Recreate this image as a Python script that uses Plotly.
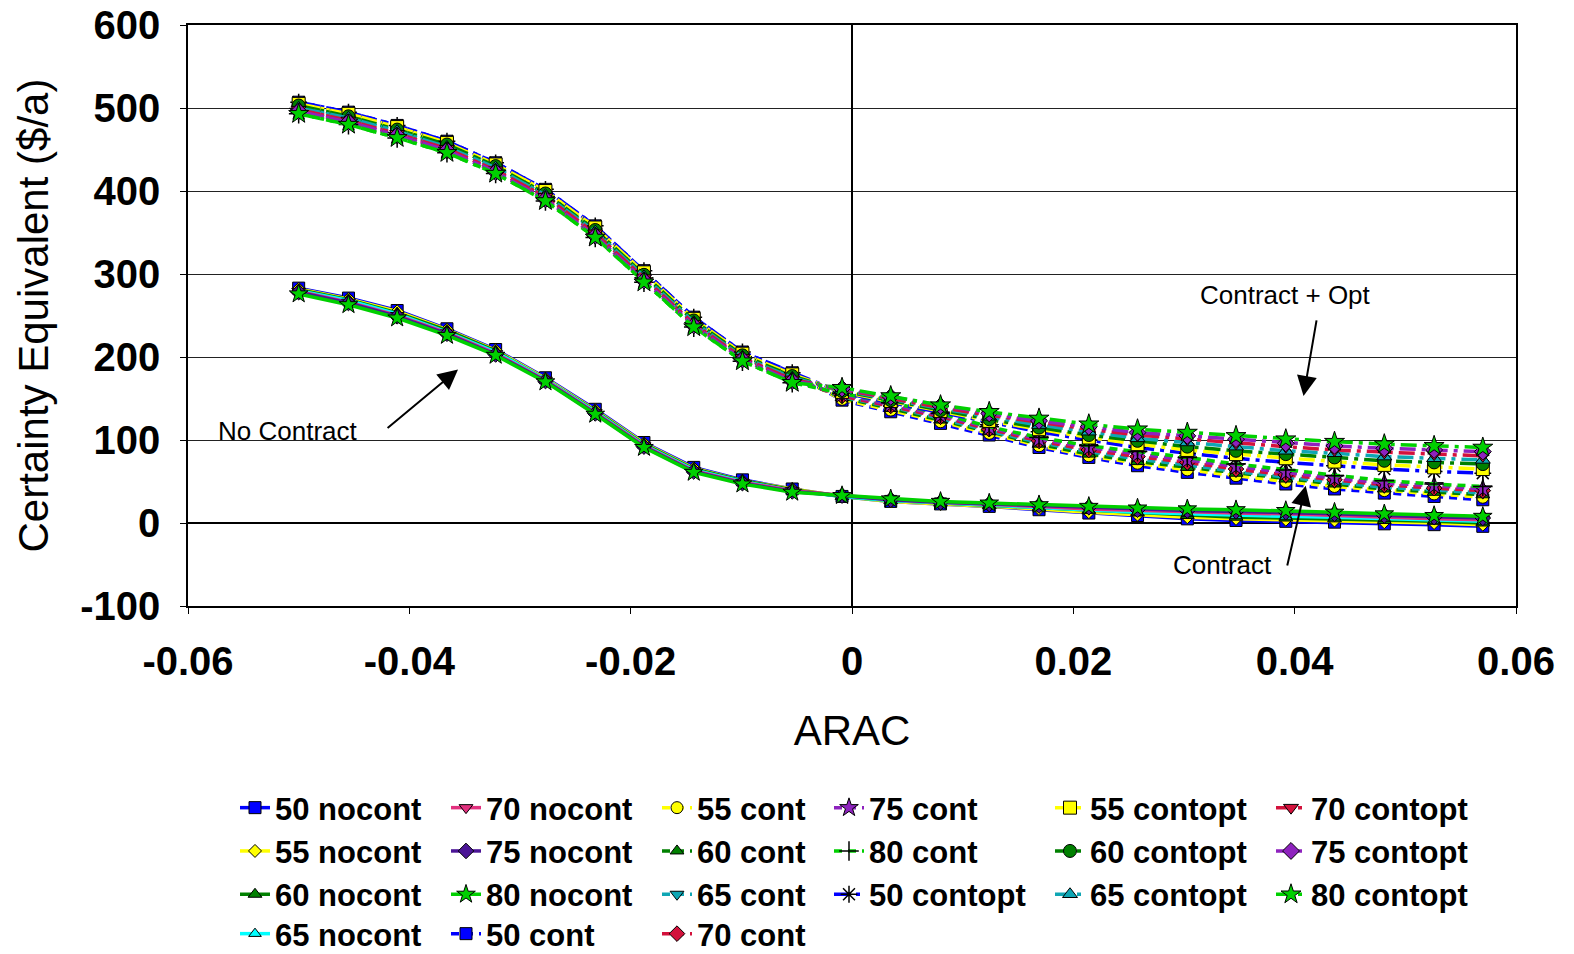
import plotly.graph_objects as go

# ---------------- data ----------------
ARAC = [-0.0500, -0.0455, -0.0411, -0.0366, -0.0322, -0.0277, -0.0232, -0.0188, -0.0143,
        -0.0099, -0.0054, -0.0009, 0.0035, 0.0080, 0.0124, 0.0169, 0.0214, 0.0258,
        0.0303, 0.0347, 0.0392, 0.0436, 0.0481, 0.0526, 0.0570]

nocont_50 = [283, 271, 256, 234, 209, 175, 137, 97, 67, 52, 41, 32, 26, 23, 20, 16, 12, 9, 5, 3, 2, 1, -1, -2, -4]
nocont_55 = [282, 270, 255, 233, 208, 174, 136, 96, 66, 51, 41, 32, 26, 23, 21, 17, 13, 10, 7, 5, 4, 3, 1, 0, -2]
nocont_60 = [281, 269, 253, 232, 207, 173, 135, 95, 65, 51, 40, 32, 27, 24, 21, 18, 15, 12, 9, 7, 6, 5, 3, 2, 0]
nocont_65 = [280, 268, 252, 230, 206, 173, 134, 94, 64, 50, 39, 32, 27, 24, 22, 19, 16, 13, 11, 9, 8, 7, 5, 3, 2]
nocont_70 = [279, 266, 250, 229, 204, 172, 133, 93, 63, 49, 39, 33, 28, 25, 23, 20, 17, 15, 13, 12, 11, 9, 7, 5, 4]
nocont_75 = [278, 265, 249, 228, 203, 171, 132, 92, 62, 48, 38, 33, 28, 25, 23, 21, 19, 16, 15, 14, 13, 11, 9, 7, 6]
nocont_80 = [276, 263, 247, 226, 202, 170, 131, 91, 61, 47, 37, 33, 29, 26, 24, 22, 20, 18, 17, 16, 15, 13, 11, 9, 8]

cont_50 = [507, 495, 479, 460, 434, 402, 358, 304, 248, 206, 181, 148, 134, 120, 106, 91, 79, 69, 61, 54, 47, 41, 36, 32, 28]
cont_55 = [505, 493, 477, 458, 432, 400, 356, 302, 246, 204, 179, 149, 136, 122, 108, 93, 81, 72, 64, 57, 50, 44, 39, 35, 31]
cont_60 = [503, 490, 474, 456, 430, 397, 353, 299, 244, 202, 177, 151, 138, 124, 110, 95, 83, 74, 67, 60, 53, 47, 41, 37, 34]
cont_65 = [500, 488, 472, 453, 428, 395, 351, 297, 242, 200, 175, 152, 140, 126, 111, 97, 86, 77, 70, 62, 55, 49, 43, 40, 36]
cont_70 = [498, 485, 469, 451, 425, 393, 349, 295, 240, 199, 173, 153, 141, 128, 113, 99, 88, 80, 73, 65, 58, 52, 46, 42, 39]
cont_75 = [496, 483, 467, 449, 423, 390, 346, 292, 238, 197, 171, 155, 143, 130, 115, 101, 91, 83, 76, 68, 61, 54, 48, 45, 41]
cont_80 = [493, 480, 464, 446, 421, 388, 344, 290, 236, 195, 169, 156, 145, 132, 116, 103, 93, 86, 79, 71, 64, 57, 51, 47, 44]

contopt_50 = [507, 495, 479, 460, 434, 402, 358, 304, 248, 206, 181, 157, 145, 133, 121, 110, 100, 91, 84, 78, 73, 69, 65, 62, 60]
contopt_55 = [505, 493, 477, 458, 432, 400, 356, 302, 246, 204, 179, 158, 147, 135, 123, 113, 103, 95, 88, 83, 78, 74, 70, 67, 65]
contopt_60 = [503, 490, 474, 456, 430, 397, 353, 299, 244, 202, 177, 159, 148, 136, 125, 115, 106, 99, 92, 87, 83, 79, 75, 73, 71]
contopt_65 = [500, 488, 472, 453, 428, 395, 351, 297, 242, 200, 175, 160, 149, 138, 128, 118, 110, 102, 97, 92, 87, 84, 80, 78, 76]
contopt_70 = [498, 485, 469, 451, 425, 393, 349, 295, 240, 199, 173, 161, 150, 139, 130, 121, 113, 106, 101, 96, 92, 88, 85, 83, 81]
contopt_75 = [496, 483, 467, 449, 423, 390, 346, 292, 238, 197, 171, 162, 152, 141, 132, 123, 116, 109, 105, 101, 96, 93, 90, 88, 86]
contopt_80 = [493, 480, 464, 446, 421, 388, 344, 290, 236, 195, 169, 163, 153, 142, 134, 126, 119, 113, 109, 105, 101, 98, 95, 93, 91]

x_tickvals = [-0.06, -0.04, -0.02, 0, 0.02, 0.04, 0.06]
x_ticktext = ["-0.06", "-0.04", "-0.02", "0", "0.02", "0.04", "0.06"]
y_tickvals = [-100, 0, 100, 200, 300, 400, 500, 600]
y_ticktext = ["-100", "0", "100", "200", "300", "400", "500", "600"]

# ---------------- styles ----------------
FONT = "Arial, Liberation Sans, sans-serif"
BLUE, YELLOW, DKGREEN, CYAN = "#0000FF", "#FFFF00", "#008000", "#00FFFF"
PINK, INDIGO, LIME = "#E2307E", "#4B1596", "#00D000"
TEAL, CRIMSON, PURPLE = "#0FA6B4", "#D3123C", "#8E22BE"

SOLID = "solid"
DASH = "8px,6px"
DASHDOT = "16px,6px,4px,6px"

series = [
    # name, values, line color, symbol, marker fill, dash, marker size, legend
    ("50 nocont", nocont_50, BLUE, "square", BLUE, SOLID, 12, "legend"),
    ("55 nocont", nocont_55, YELLOW, "diamond", YELLOW, SOLID, 10, "legend"),
    ("60 nocont", nocont_60, DKGREEN, "triangle-up", DKGREEN, SOLID, 12, "legend"),
    ("65 nocont", nocont_65, CYAN, "triangle-up", CYAN, SOLID, 11, "legend7"),
    ("70 nocont", nocont_70, PINK, "triangle-down", PINK, SOLID, 12, "legend2"),
    ("75 nocont", nocont_75, INDIGO, "diamond", INDIGO, SOLID, 12, "legend2"),
    ("80 nocont", nocont_80, LIME, "star", LIME, SOLID, 14, "legend2"),
    ("50 cont", cont_50, BLUE, "square", BLUE, DASH, 12, "legend7"),
    ("55 cont", cont_55, YELLOW, "circle", YELLOW, DASH, 12, "legend3"),
    ("60 cont", cont_60, DKGREEN, "triangle-up", DKGREEN, DASH, 12, "legend3"),
    ("65 cont", cont_65, TEAL, "triangle-down", TEAL, DASH, 12, "legend3"),
    ("70 cont", cont_70, CRIMSON, "diamond", CRIMSON, DASH, 12, "legend7"),
    ("75 cont", cont_75, PURPLE, "star", PURPLE, DASH, 14, "legend4"),
    ("80 cont", cont_80, LIME, "cross-thin", "#000000", DASH, 14, "legend4"),
    ("50 contopt", contopt_50, BLUE, "asterisk", "#000000", DASHDOT, 14, "legend4"),
    ("55 contopt", contopt_55, YELLOW, "square", YELLOW, DASHDOT, 13, "legend5"),
    ("60 contopt", contopt_60, DKGREEN, "circle", DKGREEN, DASHDOT, 13, "legend5"),
    ("65 contopt", contopt_65, TEAL, "triangle-up", TEAL, DASHDOT, 13, "legend5"),
    ("70 contopt", contopt_70, CRIMSON, "triangle-down", CRIMSON, DASHDOT, 13, "legend6"),
    ("75 contopt", contopt_75, PURPLE, "diamond", PURPLE, DASHDOT, 13, "legend6"),
    ("80 contopt", contopt_80, LIME, "star", LIME, DASHDOT, 15, "legend6"),
]

fig = go.Figure()
for name, vals, lc, sym, mc, dash, ms, leg in series:
    thin = sym in ("cross-thin", "asterisk")
    fig.add_trace(go.Scatter(
        x=ARAC, y=vals, name=name, mode="lines+markers", legend=leg,
        line=dict(color=lc, width=3.5, dash=dash),
        marker=dict(symbol=sym, size=ms, color=mc,
                    line=dict(color="#000000", width=1.5 if thin else 1)),
    ))

# ---------------- layout ----------------
W, H = 1574, 954
ML, MT, MR, MB = 188, 25, 58, 348
P_LEFT, P_TOP = ML, MT
P_W, P_H = W - ML - MR, H - MT - MB

def px_x(px):
    return (px - P_LEFT) / P_W

def px_y(py):
    return (P_TOP + P_H - py) / P_H

leg_font = dict(family=FONT, size=31, color="#000000", weight="bold")
legend_layout = {}
for key, left in [("legend", 235), ("legend2", 446), ("legend3", 657),
                  ("legend4", 829), ("legend5", 1050), ("legend6", 1271)]:
    legend_layout[key] = dict(
        x=px_x(left), y=px_y(781), xanchor="left", yanchor="top",
        orientation="v", bgcolor="rgba(0,0,0,0)", borderwidth=0,
        font=leg_font, itemwidth=30, tracegroupgap=0,
    )
legend_layout["legend7"] = dict(
    x=px_x(235), y=px_y(907), xanchor="left", yanchor="top",
    orientation="h", bgcolor="rgba(0,0,0,0)", borderwidth=0,
    font=leg_font, itemwidth=30, entrywidth=166, entrywidthmode="pixels",
)

fig.update_layout(
    width=W, height=H,
    margin=dict(l=ML, r=MR, t=MT, b=MB, pad=0, autoexpand=False),
    paper_bgcolor="#FFFFFF", plot_bgcolor="#FFFFFF",
    showlegend=True,
    **legend_layout,
)

fig.update_xaxes(
    range=[-0.06, 0.06], tickvals=x_tickvals, ticktext=x_ticktext, automargin=False,
    tickfont=dict(family=FONT, size=40, color="#000000", weight="bold"),
    ticklabeloverflow="allow", ticklabelstandoff=13,
    showgrid=False, zeroline=True, zerolinecolor="#000000", zerolinewidth=2,
    showline=True, linecolor="#000000", linewidth=1.5, mirror=True,
    ticks="outside", ticklen=6, tickcolor="#000000",
    title=dict(text="ARAC", font=dict(family=FONT, size=42, color="#000000"), standoff=34),
)
fig.update_yaxes(
    range=[-100, 600], tickvals=y_tickvals, ticktext=y_ticktext, automargin=False,
    tickfont=dict(family=FONT, size=40, color="#000000", weight="bold"),
    ticklabeloverflow="allow", ticklabelstandoff=12,
    showgrid=True, gridcolor="#222222", gridwidth=1,
    zeroline=True, zerolinecolor="#000000", zerolinewidth=2,
    showline=True, linecolor="#000000", linewidth=1.5, mirror=True,
    ticks="outside", ticklen=6, tickcolor="#000000",
)

# y-axis title placed as rotated text at the far left
fig.add_annotation(x=px_x(33), y=0.5, xref="paper", yref="paper",
                   text="Certainty Equivalent ($/a)", textangle=-90, showarrow=False,
                   xanchor="center", yanchor="middle",
                   font=dict(family=FONT, size=42, color="#000000"))

ann_font = dict(family=FONT, size=26, color="#000000")
# arrows (tip at x,y ; tail at ax,ay) in data coordinates
arrows = [
    (-0.0356, 185, -0.0421, 113),
    (0.0408, 153, 0.0420, 246),
    (0.0410, 45, 0.0393, -53),
]
for x, y, ax, ay in arrows:
    fig.add_annotation(x=x, y=y, ax=ax, ay=ay, xref="x", yref="y", axref="x", ayref="y",
                       text="", showarrow=True, arrowhead=2, arrowsize=2,
                       arrowwidth=2, arrowcolor="#000000")
fig.add_annotation(x=-0.0575, y=111, xref="x", yref="y", text="No Contract",
                   showarrow=False, xanchor="left", yanchor="middle", font=ann_font)
fig.add_annotation(x=0.0392, y=275, xref="x", yref="y", text="Contract + Opt",
                   showarrow=False, xanchor="center", yanchor="middle", font=ann_font)
fig.add_annotation(x=0.0335, y=-51, xref="x", yref="y", text="Contract",
                   showarrow=False, xanchor="center", yanchor="middle", font=ann_font)

fig.write_html("out.html", config={"displayModeBar": False},
               post_script="document.body.style.margin='0';")
